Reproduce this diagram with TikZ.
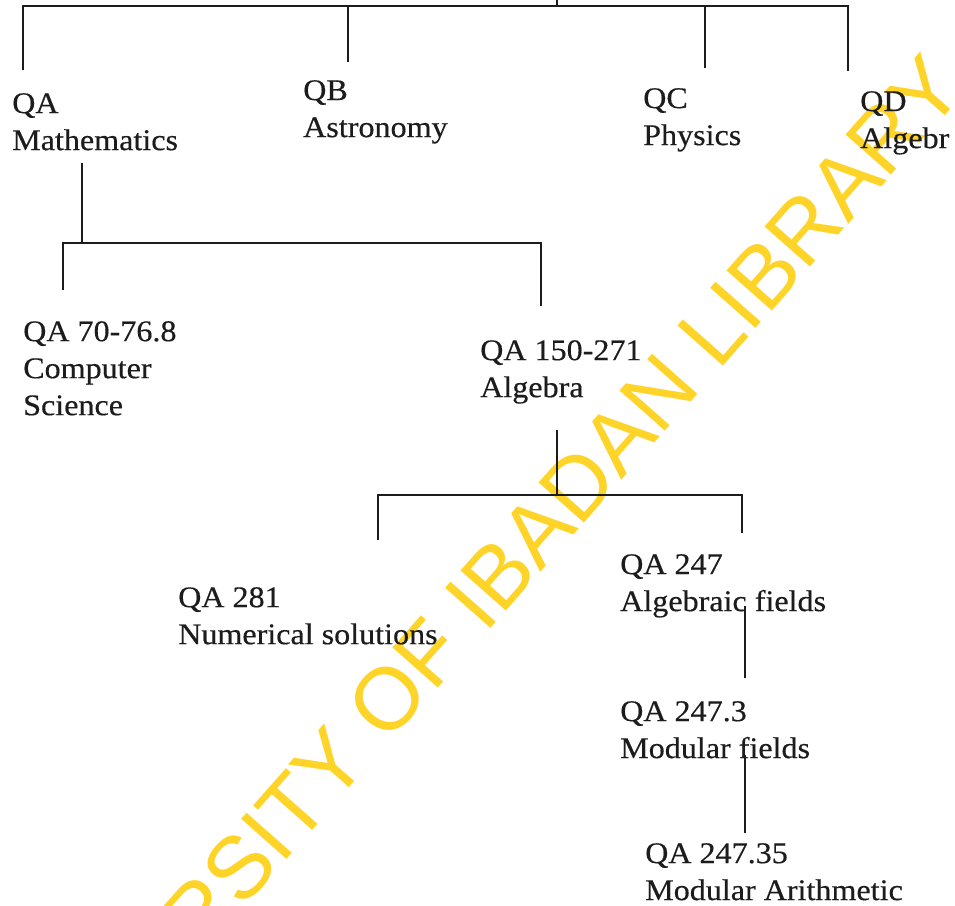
\documentclass[tikz,border=0pt]{standalone}
\usepackage{fontspec}
\setmainfont{Liberation Serif}[FakeStretch=1.07,FakeBold=0.4]
\newfontfamily\wmfont{Liberation Sans}
\definecolor{ink}{HTML}{1C1C1C}
\definecolor{wmcol}{RGB}{255,212,40}
\begin{document}
\begin{tikzpicture}[x=1pt,y=-1pt,
  lbl/.style={anchor=north west, inner sep=0pt, align=left, text=ink,
    font=\fontsize{30}{37}\selectfont},
  conn/.style={draw=ink, line width=1.7pt},
  wmstyle/.style={text=wmcol, font=\wmfont\fontsize{88}{88}\selectfont, inner sep=0pt}]
\useasboundingbox (0,0) rectangle (955,905);
\fill[white] (0,0) rectangle (955,905);
\begin{scope}
\clip (0,0) rectangle (955,905);
\node[wmstyle, rotate=48.5, anchor=base east] (wmark) at (967,90) {UNIVERSITY OF IBADAN LIBRARY};
\end{scope}

% labels
\node[lbl] (qa)  at (12,93)   {QA\\Mathematics};
\node[lbl] (qb)  at (303,80)  {QB\\Astronomy};
\node[lbl] (qc)  at (643,88)  {QC\\Physics};
\node[lbl] (qd)  at (860,91)  {QD\\Algebr};
\node[lbl] (cs)  at (23,321)  {QA 70-76.8\\Computer\\Science};
\node[lbl] (alg) at (480,340) {QA 150-271\\Algebra};
\node[lbl] (num) at (178,587) {QA 281\\Numerical solutions};
\node[lbl] (af)  at (620,554) {QA 247\\Algebraic fields};
\node[lbl] (mf)  at (620,701) {QA 247.3\\Modular fields};
\node[lbl] (ma)  at (645,843) {QA 247.35\\Modular Arithmetic};

% junction coordinates
\coordinate (rootUp) at (557,0);
\coordinate (rootJ)  at (557,6);
\coordinate (tL) at (23,6);   \coordinate (qaTop) at (23,70);
\coordinate (tB) at (348,6);  \coordinate (qbTop) at (348,62);
\coordinate (tC) at (705,6);  \coordinate (qcTop) at (705,68);
\coordinate (tD) at (848,6);  \coordinate (qdTop) at (848,71);

\coordinate (mathDown) at (82,163);
\coordinate (mJ) at (82,243);
\coordinate (mL) at (63,243);   \coordinate (csTop)  at (63,290);
\coordinate (mR) at (541,243);  \coordinate (algTop) at (541,306);

\coordinate (algDown) at (557,430);
\coordinate (aJ) at (557,495);
\coordinate (aL) at (378,495);  \coordinate (numTop) at (378,540);
\coordinate (aR) at (742,495);  \coordinate (afTop)  at (742,533);

\coordinate (afDown) at (745,606);  \coordinate (mfTop) at (745,678);
\coordinate (mfDown) at (745,755);  \coordinate (maTop) at (745,833);

% connectors
\draw[conn] (rootUp) -- (rootJ);
\draw[conn] (qaTop) -- (tL) -- (tD) -- (qdTop);
\draw[conn] (tB) -- (qbTop);
\draw[conn] (tC) -- (qcTop);

\draw[conn] (mathDown) -- (mJ);
\draw[conn] (csTop) -- (mL) -- (mR) -- (algTop);

\draw[conn] (algDown) -- (aJ);
\draw[conn] (numTop) -- (aL) -- (aR) -- (afTop);

\draw[conn] (afDown) -- (mfTop);
\draw[conn] (mfDown) -- (maTop);
\end{tikzpicture}
\end{document}
